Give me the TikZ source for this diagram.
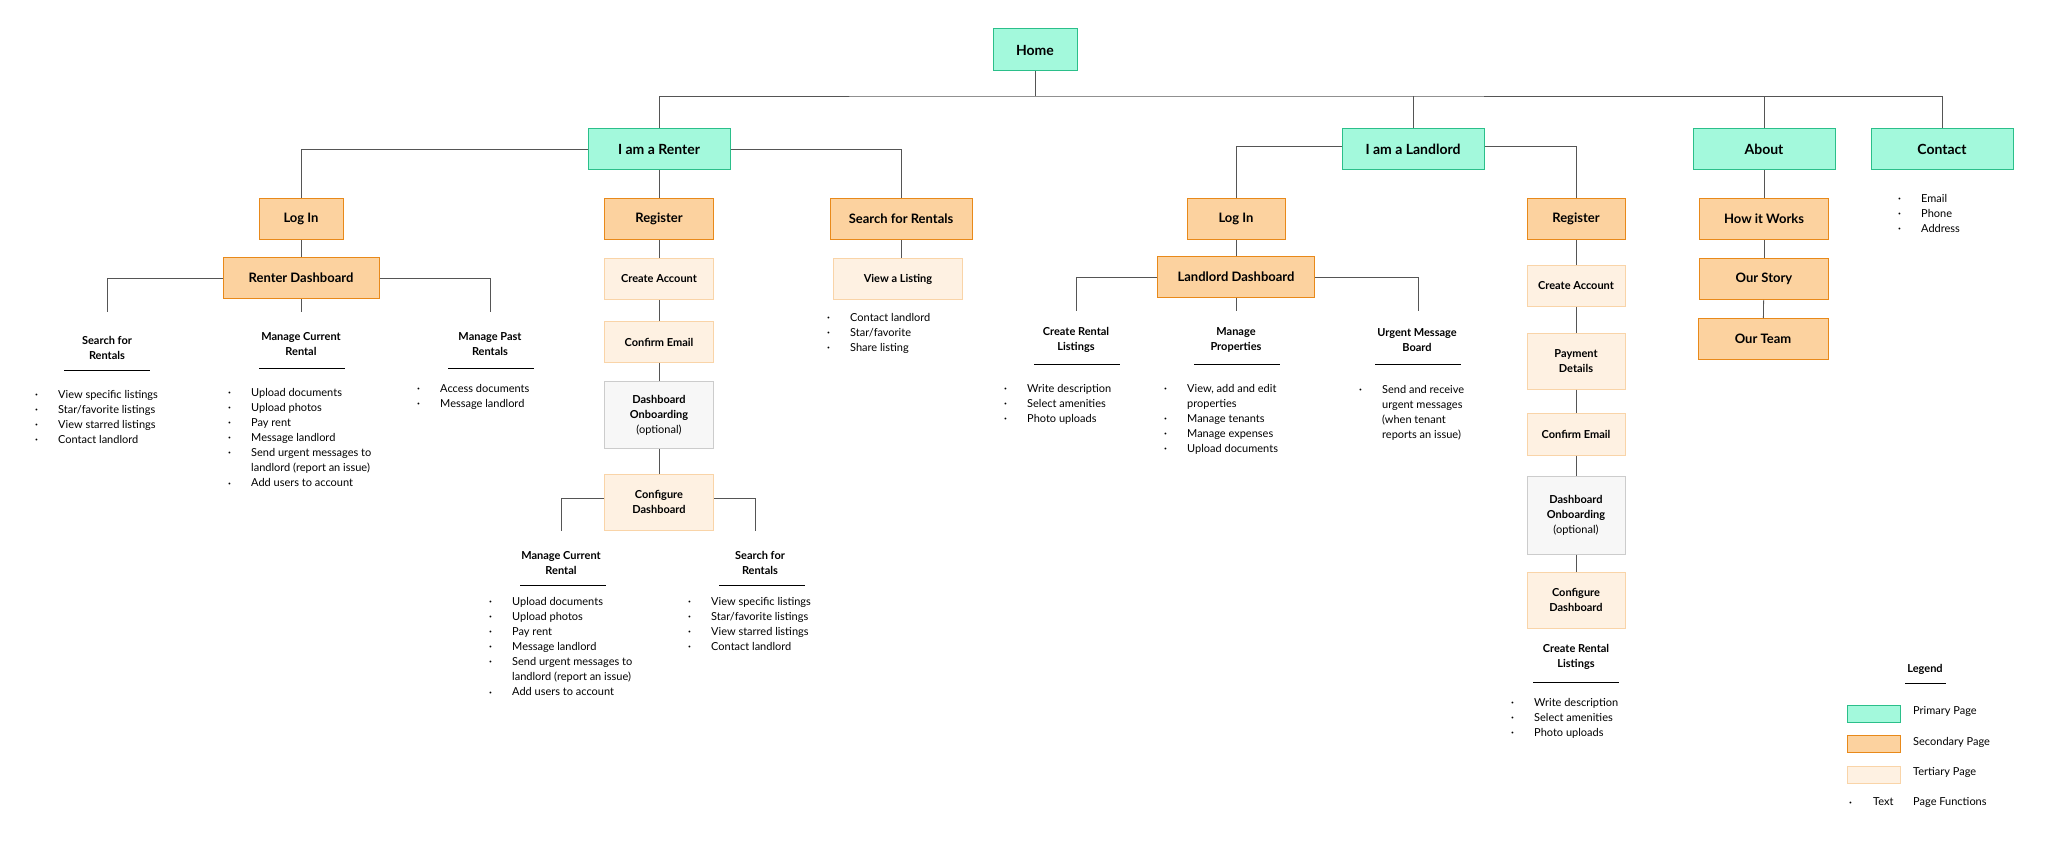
\documentclass[tikz,border=0pt]{standalone}
\usepackage{fontspec}
\setmainfont{Lato}
\usetikzlibrary{positioning}

\definecolor{primfill}{HTML}{A3F9DC}
\definecolor{primline}{HTML}{2BBF8A}
\definecolor{secfill}{HTML}{FCD29F}
\definecolor{secline}{HTML}{E8891A}
\definecolor{terfill}{HTML}{FEF1E2}
\definecolor{terline}{HTML}{F9D4A8}
\definecolor{onbfill}{HTML}{F7F7F7}
\definecolor{onbline}{HTML}{CCCCCC}
\definecolor{wire}{HTML}{555555}

\newcommand{\bdot}{\makebox[23pt][l]{\raisebox{1.8pt}{\scalebox{0.45}{\textbullet}}}}
\newcommand{\bgap}{\makebox[23pt][l]{}}

\tikzset{
  page/.style={draw, line width=1pt, inner sep=0pt, align=center, font=\bfseries},
  primary/.style={page, fill=primfill, draw=primline, minimum width=142pt, minimum height=41pt, font=\fontsize{14}{16}\selectfont\bfseries},
  secondary/.style={page, fill=secfill, draw=secline, minimum height=41pt, font=\fontsize{13}{15}\selectfont\bfseries},
  tertiary/.style={page, fill=terfill, draw=terline, minimum height=41pt, font=\fontsize{11}{15}\selectfont\bfseries},
  onboard/.style={page, fill=onbfill, draw=onbline, font=\fontsize{11}{15}\selectfont\bfseries},
  head/.style={align=center, inner sep=0pt, font=\fontsize{11}{15}\selectfont\bfseries},
  items/.style={align=left, inner sep=0pt, anchor=north west, font=\fontsize{11}{15.1}\selectfont},
  link/.style={draw=wire, line width=0.8pt},
  rule/.style={draw=black, line width=1pt}
}

\begin{document}
\begin{tikzpicture}[x=1pt, y=-1pt]
  \useasboundingbox (0,0) rectangle (2051,843);

  % top level
  \node[primary, minimum width=84pt, minimum height=42pt] (home) at (1035,50) {Home};
  \coordinate (bus) at (1035,96);
  \node[primary] (renter) at (659,149) {I am a Renter};
  \node[primary] (landlord) at (1413,149) {I am a Landlord};
  \node[primary] (about) at (1764,149) {About};
  \node[primary] (contact) at (1942,149) {Contact};

  \draw[link] (home) -- (bus);
  \draw[link] (renter.north) |- (bus) -| (contact.north);
  \draw[link] (landlord.north) -- (landlord.north |- bus);
  \draw[link] (about.north) -- (about.north |- bus);

  % renter side
  \node[secondary, minimum width=84pt] (rlogin) at (301,219) {Log In};
  \node[secondary, minimum width=109pt] (rreg) at (659,219) {Register};
  \node[secondary, minimum width=142pt] (rsearch) at (901,219) {Search for Rentals};
  \node[secondary, minimum width=156pt] (rdash) at (301,278) {Renter Dashboard};

  \draw[link] (renter.west) -| (rlogin.north);
  \draw[link] (renter.east) -| (rsearch.north);
  \draw[link] (renter) -- (rreg);
  \draw[link] (rlogin) -- (rdash);

  \coordinate (rd1) at (107,312);
  \coordinate (rd2) at (301,312);
  \coordinate (rd3) at (490,312);
  \draw[link] (rdash.west) -| (rd1);
  \draw[link] (rdash.east) -| (rd3);
  \draw[link] (rdash.south) -- (rd2);

  \node[head] (rdsearch) at (107,348) {Search for\\Rentals};
  \node[head] (rdcur) at (301,344) {Manage Current\\Rental};
  \node[head] (rdpast) at (490,344) {Manage Past\\Rentals};
  \draw[rule] (64,370) -- ++(86,0);
  \draw[rule] (259,368) -- ++(86,0);
  \draw[rule] (448,368) -- ++(86,0);

  \node[items] (rdsearchl) at (35,390) {\bdot View specific listings\\\bdot Star/favorite listings\\\bdot View starred listings\\\bdot Contact landlord};
  \node[items] (rdcurl) at (228,388) {\bdot Upload documents\\\bdot Upload photos\\\bdot Pay rent\\\bdot Message landlord\\\bdot Send urgent messages to\\\bgap landlord (report an issue)\\\bdot Add users to account};
  \node[items] (rdpastl) at (417,384) {\bdot Access documents\\\bdot Message landlord};

  % renter register chain
  \node[tertiary, minimum width=109pt] (rcacc) at (659,279) {Create Account};
  \node[tertiary, minimum width=109pt] (rcmail) at (659,342) {Confirm Email};
  \node[onboard, minimum width=109pt, minimum height=67pt] (ronb) at (659,415) {Dashboard\\Onboarding\\{\normalfont(optional)}};
  \node[tertiary, minimum width=109pt, minimum height=56pt] (rconf) at (659,502) {Configure\\Dashboard};
  \draw[link] (rreg) -- (rcacc);
  \draw[link] (rcacc) -- (rcmail);
  \draw[link] (rcmail) -- (ronb);
  \draw[link] (ronb) -- (rconf);

  \coordinate (cf1) at (561,531);
  \coordinate (cf2) at (755,531);
  \draw[link] (rconf.west |- 0,498) -| (cf1);
  \draw[link] (rconf.east |- 0,498) -| (cf2);

  \node[head] (cfcur) at (561,563) {Manage Current\\Rental};
  \node[head] (cfsearch) at (760,563) {Search for\\Rentals};
  \draw[rule] (520,585) -- ++(86,0);
  \draw[rule] (719,585) -- ++(86,0);
  \node[items] (cfcurl) at (489,597) {\bdot Upload documents\\\bdot Upload photos\\\bdot Pay rent\\\bdot Message landlord\\\bdot Send urgent messages to\\\bgap landlord (report an issue)\\\bdot Add users to account};
  \node[items] (cfsearchl) at (688,597) {\bdot View specific listings\\\bdot Star/favorite listings\\\bdot View starred listings\\\bdot Contact landlord};

  % renter search
  \node[tertiary, minimum width=129pt] (rview) at (898,279) {View a Listing};
  \draw[link] (rsearch.south) -- (rsearch.south |- rview.north);
  \node[items] (rviewl) at (827,313) {\bdot Contact landlord\\\bdot Star/favorite\\\bdot Share listing};

  % landlord side
  \node[secondary, minimum width=98pt] (llogin) at (1236,219) {Log In};
  \node[secondary, minimum width=98pt] (lreg) at (1576,219) {Register};
  \node[secondary, minimum width=157pt] (ldash) at (1236,277) {Landlord Dashboard};
  \draw[link] (landlord.west |- 0,146) -| (llogin.north);
  \draw[link] (landlord.east |- 0,146) -| (lreg.north);
  \draw[link] (llogin) -- (ldash);

  \coordinate (ld1) at (1076,311);
  \coordinate (ld2) at (1236,311);
  \coordinate (ld3) at (1418,311);
  \draw[link] (ldash.west) -| (ld1);
  \draw[link] (ldash.east) -| (ld3);
  \draw[link] (ldash.south) -- (ld2);

  \node[head] (ldcreate) at (1076,340) {Create Rental\\Listings};
  \node[head] (ldprop) at (1236,340) {Manage\\Properties};
  \node[head] (ldurgent) at (1417,340) {Urgent Message\\Board};
  \draw[rule] (1034,364) -- ++(86,0);
  \draw[rule] (1194,364) -- ++(86,0);
  \draw[rule] (1375,364) -- ++(86,0);
  \node[items] (ldcreatel) at (1004,384) {\bdot Write description\\\bdot Select amenities\\\bdot Photo uploads};
  \node[items] (ldpropl) at (1164,384) {\bdot View, add and edit\\\bgap properties\\\bdot Manage tenants\\\bdot Manage expenses\\\bdot Upload documents};
  \node[items] (ldurgentl) at (1359,385) {\bdot Send and receive\\\bgap urgent messages\\\bgap (when tenant\\\bgap reports an issue)};

  % landlord register chain
  \node[tertiary, minimum width=98pt] (lcacc) at (1576,286) {Create Account};
  \node[tertiary, minimum width=98pt, minimum height=56pt] (lpay) at (1576,361) {Payment\\Details};
  \node[tertiary, minimum width=98pt, minimum height=42pt] (lcmail) at (1576,434) {Confirm Email};
  \node[onboard, minimum width=98pt, minimum height=78pt] (lonb) at (1576,515) {Dashboard\\Onboarding\\{\normalfont(optional)}};
  \node[tertiary, minimum width=98pt, minimum height=56pt] (lconf) at (1576,600) {Configure\\Dashboard};
  \draw[link] (lreg) -- (lcacc);
  \draw[link] (lcacc) -- (lpay);
  \draw[link] (lpay) -- (lcmail);
  \draw[link] (lcmail) -- (lonb);
  \draw[link] (lonb) -- (lconf);

  \node[head] (lccreate) at (1576,657) {Create Rental\\Listings};
  \draw[rule] (1533,682) -- ++(86,0);
  \node[items] (lccreatel) at (1511,698) {\bdot Write description\\\bdot Select amenities\\\bdot Photo uploads};

  % about
  \node[secondary, minimum width=129pt] (how) at (1764,219) {How it Works};
  \node[secondary, minimum width=129pt] (story) at (1764,279) {Our Story};
  \node[secondary, minimum width=130pt] (team) at (1763,339) {Our Team};
  \draw[link] (about) -- (how);
  \draw[link] (how) -- (story);
  \draw[link] (story) -- (team);

  % contact
  \node[items] (contactl) at (1898,194) {\bdot Email\\\bdot Phone\\\bdot Address};

  % legend
  \node[head] (legend) at (1925,669) {Legend};
  \draw[rule] (1905,683) -- (1946,683);
  \node[primary, minimum width=53pt, minimum height=17pt] (lgprim) at (1874,714) {};
  \node[secondary, minimum width=53pt, minimum height=17pt] (lgsec) at (1874,744) {};
  \node[tertiary, minimum width=53pt, minimum height=17pt] (lgter) at (1874,775) {};
  \node[items, anchor=west] (lgprimt) at (1913,711) {Primary Page};
  \node[items, anchor=west] (lgsect) at (1913,742) {Secondary Page};
  \node[items, anchor=west] (lgtert) at (1913,772) {Tertiary Page};
  \node[items, anchor=west] (lgtext) at (1849,802) {\makebox[24pt][l]{\raisebox{1.8pt}{\scalebox{0.45}{\textbullet}}}Text};
  \node[items, anchor=west] (lgfunc) at (1913,802) {Page Functions};
\end{tikzpicture}
\end{document}
